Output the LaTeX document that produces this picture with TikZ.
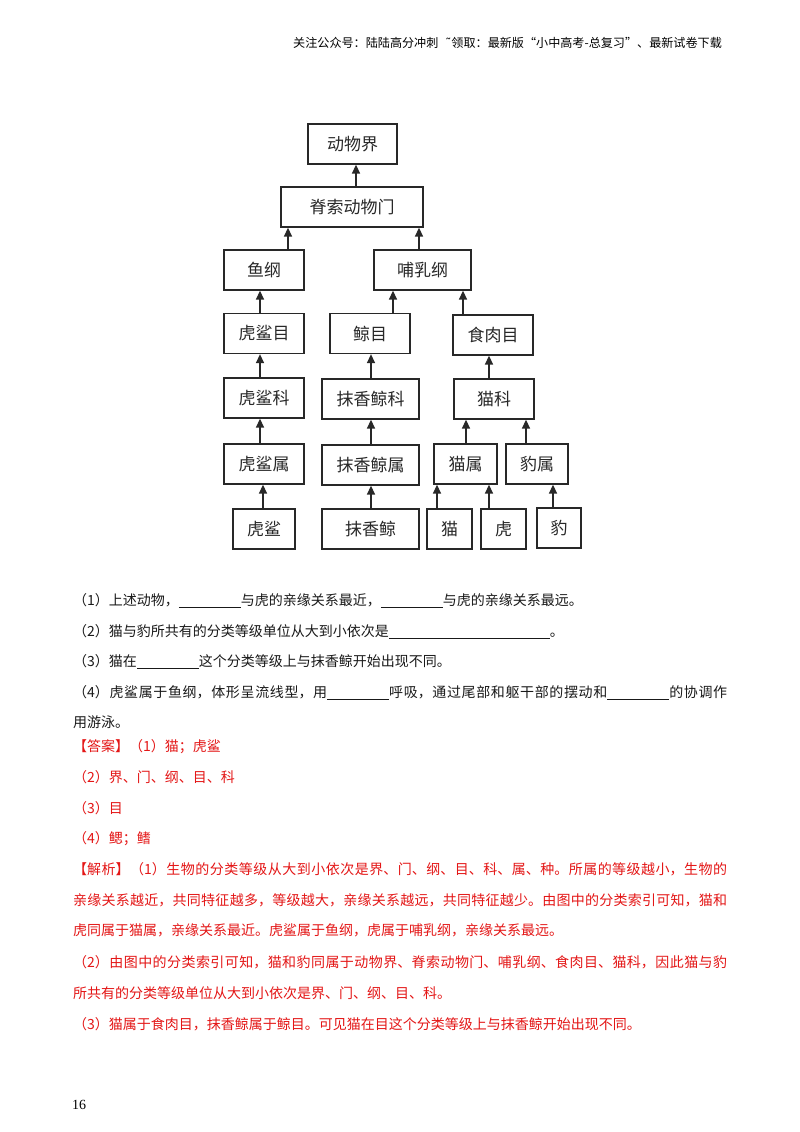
\documentclass[tikz,border=0pt]{standalone}
\usepackage{fontspec}
\usetikzlibrary{arrows.meta,calc}
\newfontfamily\cjk{Noto Sans CJK SC}
\newfontfamily\dejavu{DejaVu Sans}
\newfontfamily\serifnum{Liberation Serif}
\XeTeXlinebreaklocale "zh"
\XeTeXlinebreakskip=0pt plus 3pt minus 0.5pt
\newcommand\blankline[1]{\rule[-2pt]{#1pt}{1pt}}
\definecolor{ansred}{RGB}{228,22,22}
\definecolor{ink}{RGB}{40,40,40}
\tikzset{
  box/.style={draw=ink, line width=1.3pt, inner sep=0pt, minimum height=40pt,
    font=\cjk\fontsize{17}{17}\selectfont, text=ink},
  arr/.style={draw=ink, line width=1.4pt, -{Triangle[width=8pt,length=9pt]}},
  body/.style={anchor=base west, inner sep=0pt, font=\cjk\fontsize{14}{14}\selectfont, text=black!90},
  full/.style={body, text width=654pt, align=justify},
  red/.style={text=ansred}
}
\begin{document}
\begin{tikzpicture}[x=1pt,y=-1pt]
\path[use as bounding box, fill=white] (0,0) rectangle (800,1132);

% header
\node[anchor=base west, inner sep=0pt, font=\cjk\fontsize{12.1}{12}\selectfont] (hdr) at (293,47.5)
  {关注公众号：陆陆高分冲刺\hspace{7pt}{\dejavu ˜}领取：最新版“小中高考-总复习”、最新试卷下载};

% boxes
\node[box, minimum width=89pt]  (jie)      at (352.5,144) {动物界};
\node[box, minimum width=142pt] (men)      at (352,207)   {脊索动物门};
\node[box, minimum width=80pt]  (yu)       at (264,270)   {鱼纲};
\node[box, minimum width=97pt]  (buru)     at (422.5,270) {哺乳纲};
\node[box, minimum width=80pt]  (hushamu)  at (264,333.5) {虎鲨目};
\node[box, minimum width=80pt]  (jingmu)   at (370,333.5) {鲸目};
\node[box, minimum width=80pt]  (shiroumu) at (493,335)   {食肉目};
\node[box, minimum width=80pt]  (hushake)  at (264,398)   {虎鲨科};
\node[box, minimum width=97pt]  (mxjke)    at (370.5,399) {抹香鲸科};
\node[box, minimum width=80pt]  (maoke)    at (494,399)   {猫科};
\node[box, minimum width=80pt]  (hushashu) at (264,464)   {虎鲨属};
\node[box, minimum width=97pt]  (mxjshu)   at (370.5,465) {抹香鲸属};
\node[box, minimum width=63pt]  (maoshu)   at (465.5,464) {猫属};
\node[box, minimum width=62pt]  (baoshu)   at (537,464)   {豹属};
\node[box, minimum width=62pt]  (husha)    at (264,529)   {虎鲨};
\node[box, minimum width=97pt]  (mxj)      at (370.5,529) {抹香鲸};
\node[box, minimum width=45pt]  (mao)      at (449.5,529) {猫};
\node[box, minimum width=45pt]  (hu)       at (503.5,529) {虎};
\node[box, minimum width=44pt]  (bao)      at (559,528)   {豹};

% arrows
\draw[arr] ($(men.north)+(4,0)$)       -- ($(jie.south)+(3.5,0)$);
\draw[arr] ($(yu.north)+(24,0)$)       -- ($(men.south)+(-64,0)$);
\draw[arr] ($(buru.north)+(-3.5,0)$)   -- ($(men.south)+(67,0)$);
\draw[arr] ($(hushamu.north)+(-4,0)$)  -- ($(yu.south)+(-4,0)$);
\draw[arr] ($(jingmu.north)+(23,0)$)   -- ($(buru.south)+(-29.5,0)$);
\draw[arr] ($(shiroumu.north)+(-30,0)$)-- ($(buru.south)+(40.5,0)$);
\draw[arr] ($(hushake.north)+(-4,0)$)  -- ($(hushamu.south)+(-4,0)$);
\draw[arr] ($(mxjke.north)+(0.5,0)$)   -- ($(jingmu.south)+(1,0)$);
\draw[arr] ($(maoke.north)+(-5,0)$)    -- ($(shiroumu.south)+(-4,0)$);
\draw[arr] ($(hushashu.north)+(-4,0)$) -- ($(hushake.south)+(-4,0)$);
\draw[arr] ($(mxjshu.north)+(0.5,0)$)  -- ($(mxjke.south)+(0.5,0)$);
\draw[arr] ($(maoshu.north)+(0.5,0)$)  -- ($(maoke.south)+(-28,0)$);
\draw[arr] ($(baoshu.north)+(-11,0)$)  -- ($(maoke.south)+(32,0)$);
\draw[arr] ($(husha.north)+(-1,0)$)    -- ($(hushashu.south)+(-1,0)$);
\draw[arr] ($(mxj.north)+(0.5,0)$)     -- ($(mxjshu.south)+(0.5,0)$);
\draw[arr] ($(mao.north)+(-12.5,0)$)   -- ($(maoshu.south)+(-28.5,0)$);
\draw[arr] ($(hu.north)+(-14.5,0)$)    -- ($(maoshu.south)+(23.5,0)$);
\draw[arr] ($(bao.north)+(-6,0)$)      -- ($(baoshu.south)+(16,0)$);

% questions
\node[body] (q1) at (73,605.5) {（1）上述动物，\blankline{62}与虎的亲缘关系最近，\blankline{62}与虎的亲缘关系最远。};
\node[body] (q2) at (73,636.5) {（2）猫与豹所共有的分类等级单位从大到小依次是\blankline{161}。};
\node[body] (q3) at (73,666.5) {（3）猫在\blankline{62}这个分类等级上与抹香鲸开始出现不同。};
\node[full] (q4) at (73,697.5) {\parfillskip=0pt （4）虎鲨属于鱼纲，体形呈流线型，用\blankline{62}呼吸，通过尾部和躯干部的摆动和\blankline{62}的协调作\par};
\node[body] (q4b) at (73,727.5) {用游泳。};

% answers
\node[body, red] (a1) at (73,751.5) {【答案】（1）猫；虎鲨};
\node[body, red] (a2) at (73,782.5) {（2）界、门、纲、目、科};
\node[body, red] (a3) at (73,813.5) {（3）目};
\node[body, red] (a4) at (73,843.5) {（4）鳃；鳍};
\node[full, red] (j1) at (73,874.5) {\parfillskip=0pt 【解析】（1）生物的分类等级从大到小依次是界、门、纲、目、科、属、种。所属的等级越小，生物的\par};
\node[full, red] (j2) at (73,905.5) {\parfillskip=0pt 亲缘关系越近，共同特征越多，等级越大，亲缘关系越远，共同特征越少。由图中的分类索引可知，猫和\par};
\node[body, red] (j3) at (73,935.5) {虎同属于猫属，亲缘关系最近。虎鲨属于鱼纲，虎属于哺乳纲，亲缘关系最远。};
\node[full, red] (j4) at (73,967.5) {\parfillskip=0pt （2）由图中的分类索引可知，猫和豹同属于动物界、脊索动物门、哺乳纲、食肉目、猫科，因此猫与豹\par};
\node[body, red] (j5) at (73,998.5) {所共有的分类等级单位从大到小依次是界、门、纲、目、科。};
\node[body, red] (j6) at (73,1029.5) {（3）猫属于食肉目，抹香鲸属于鲸目。可见猫在目这个分类等级上与抹香鲸开始出现不同。};

% page number
\node[anchor=base west, inner sep=0pt, font=\serifnum\fontsize{14}{14}\selectfont] (pg) at (72,1109) {16};
\end{tikzpicture}
\end{document}
